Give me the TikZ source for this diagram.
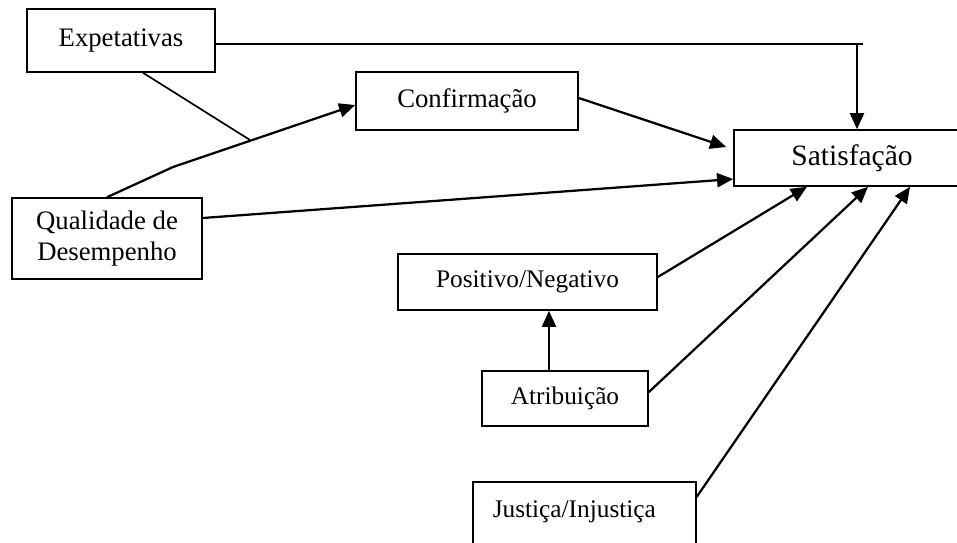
\documentclass[tikz,border=0pt]{standalone}
\usepackage{fontspec}
\setmainfont{Liberation Serif}
\usetikzlibrary{positioning}
\usetikzlibrary{shapes,arrows.meta}

\begin{document}
\begin{tikzpicture}[x=0.025cm, y=-0.025cm,
    every node/.style={draw, align=center, line width=1.1pt, inner sep=0pt,
        font=\fontsize{19}{22}\selectfont},
    big/.style={font=\fontsize{21}{24}\selectfont},
    small/.style={font=\fontsize{18}{21}\selectfont},
    link/.style={line width=1.2pt},
    arr/.style={line width=1.6pt, -{Triangle[length=11.5pt,width=10pt]}}]
    \useasboundingbox (0,0) rectangle (957,542);
    \clip (0,0) rectangle (957,542);

    \node [minimum width=4.7cm, minimum height=1.575cm] (exp) at (121,40.5) {Expetativas};
    \node [minimum width=5.55cm, minimum height=1.45cm] (conf) at (467,101) {Confirmação};
    \node [big, minimum width=5.9cm, minimum height=1.4cm] (sat) at (852,158) {Satisfação};
    \node [minimum width=4.75cm, minimum height=2.025cm] (qual) at (107,238.5) {Qualidade de \\ Desempenho};
    \node [small, minimum width=6.475cm, minimum height=1.4cm] (pos) at (527.5,282) {Positivo/Negativo};
    \node [small, minimum width=4.15cm, minimum height=1.375cm] (atr) at (565,398.5) {Atribuição};
    \node [small, anchor=north west, align=left, text width=4.575cm, inner xsep=0.5cm, inner ysep=0.35cm,
        text height=0.55cm, text depth=1.5cm] (jus) at (472,481) {Justiça/Injustiça};

    \coordinate (ecorner) at (863,44);
    \coordinate (etop) at (857,44);
    \coordinate (jn) at (250,140);
    \coordinate (bend) at (173,167);

    \draw [link] (exp.east |- ecorner) -- (ecorner);
    \draw [arr] (etop) -- (etop |- sat.north);
    \draw [link] ([xshift=0.55cm]exp.south) -- (jn);
    \draw [arr] (qual.north) -- (bend) -- ([yshift=-0.1cm]conf.west);
    \draw [arr] ([yshift=0.075cm]conf.east) -- ([xshift=-0.175cm, yshift=0.275cm]sat.west);
    \draw [arr] ([yshift=0.5125cm]qual.east) -- ([yshift=-0.525cm]sat.west);
    \draw [arr] ([yshift=0.125cm]pos.east) -- ([xshift=-1.125cm]sat.south);
    \draw [arr] ([yshift=0.16cm]atr.east) -- ([xshift=0.4cm]sat.south);
    \draw [arr] ([yshift=-0.4cm]jus.north east) -- ([xshift=1.45cm]sat.south);
    \draw [arr] ([xshift=-0.4cm]atr.north) -- ([xshift=-0.4cm]atr.north |- pos.south);
\end{tikzpicture}
\end{document}
